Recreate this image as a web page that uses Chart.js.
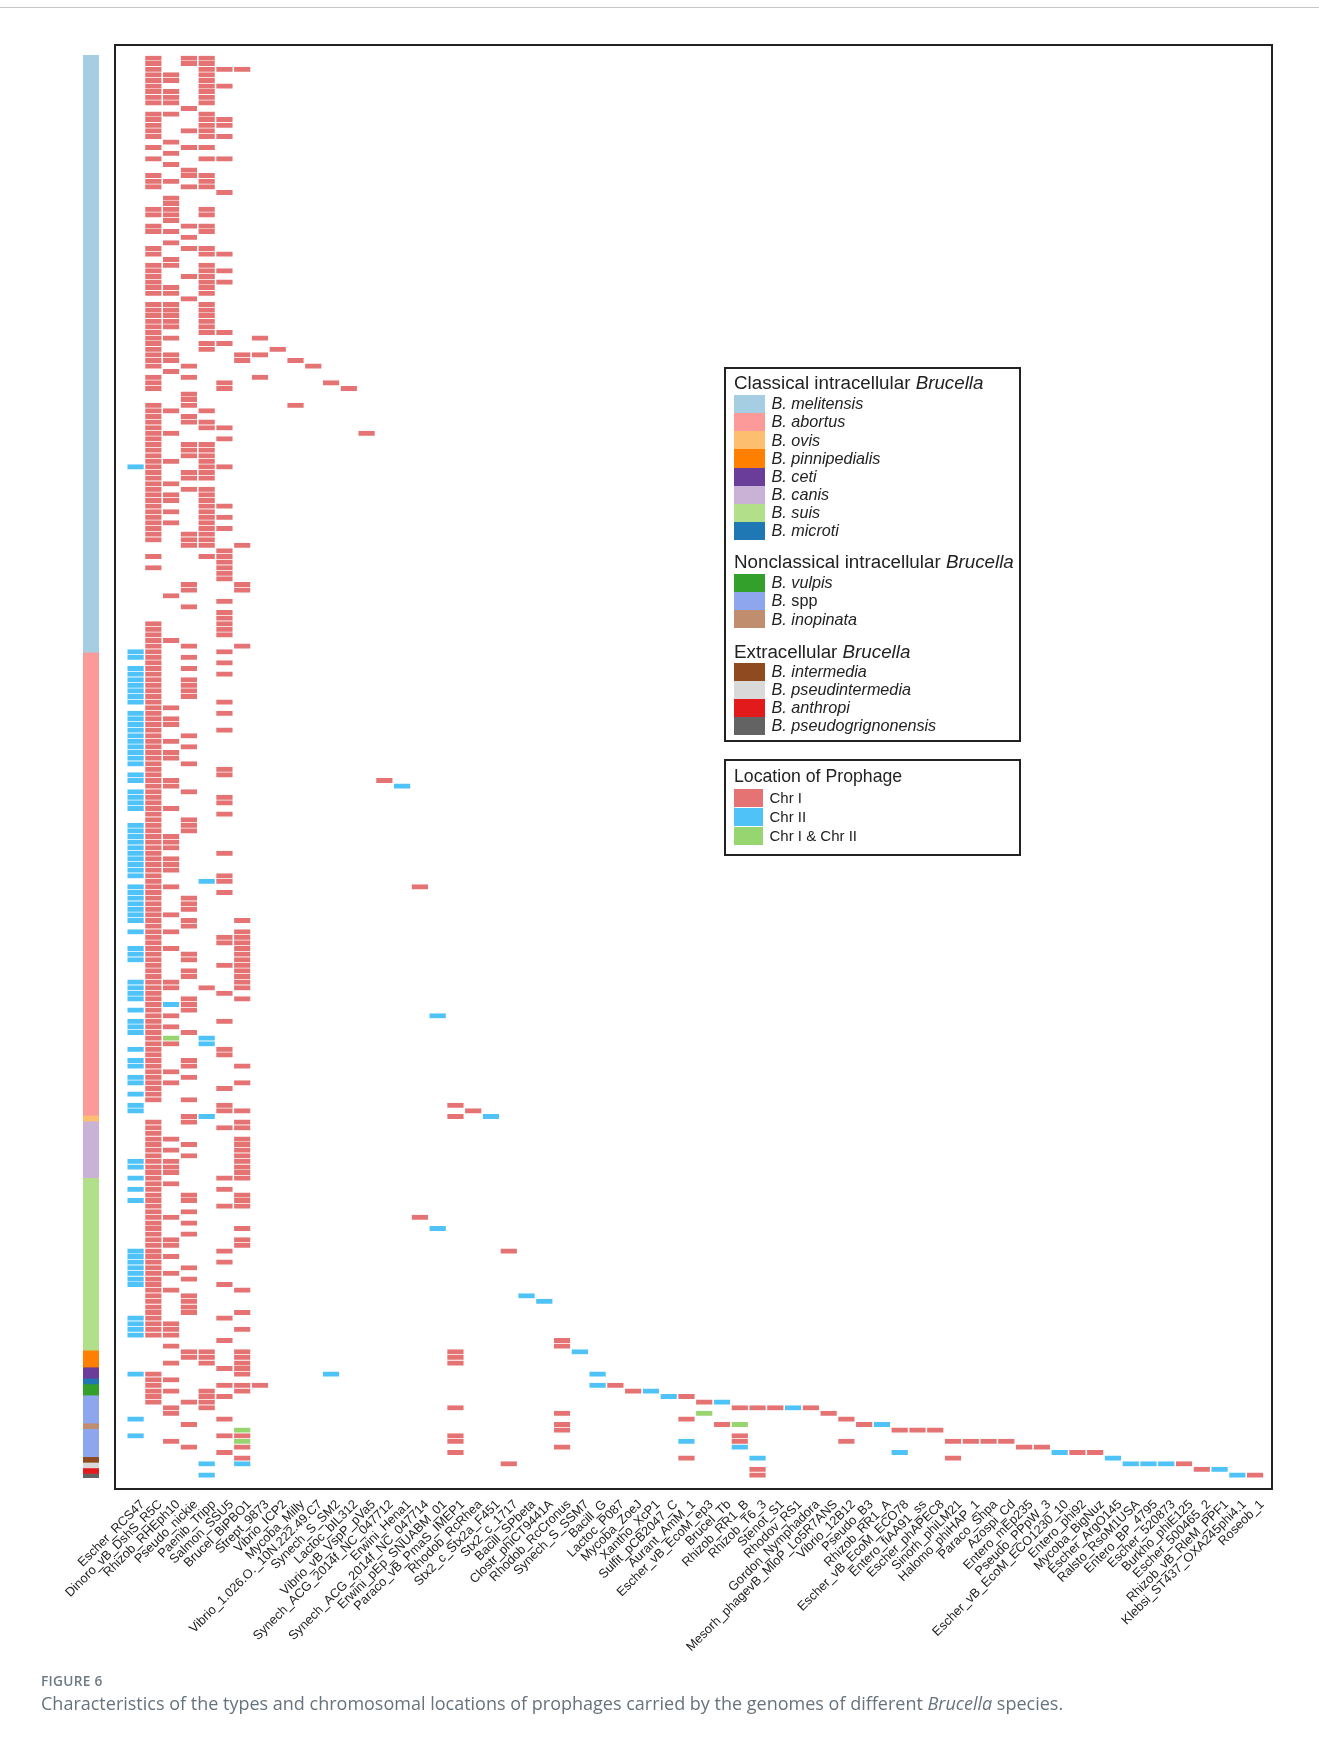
<!DOCTYPE html>
<html lang="en">
<head>
<meta charset="UTF-8">
<title>Figure 6</title>
<script src="https://cdn.jsdelivr.net/npm/chart.js"></script>
<style>
    body { margin: 0; background: #fff; font-family: "Liberation Sans", Arial, sans-serif; color: #222; }
    #page { position: relative; width: 1319px; height: 1738px; overflow: hidden; }
    #topRule { position: absolute; left: 0; top: 6.5px; width: 1319px; height: 1px; background: #c4c8cb; }
    #heat { position: absolute; left: 0; top: 0; }
    #side { position: absolute; left: 83px; top: 55px; }
    #frame { position: absolute; left: 114px; top: 43.5px; width: 1155px; height: 1442px; border: 2px solid #222; }
    .box { position: absolute; left: 724px; width: 297px; border: 2px solid #222; background: #fff; box-sizing: border-box; }
    .title { position: absolute; left: 734px; font-size: 18.8px; line-height: 22px; white-space: nowrap; color: #222; }
    .swatch { position: absolute; left: 734px; width: 31px; }
    .item { position: absolute; left: 771.5px; margin-top: -0.8px; font-size: 16.2px; line-height: 18px; white-space: nowrap; font-style: italic; color: #222; }
    .item span { font-style: normal; }
    .chr { left: 769.5px; margin-top: 0; font-size: 15px; font-style: normal; }
    #figLabel { position: absolute; left: 41px; top: 1671px; font: 600 13.7px "Open Sans", sans-serif; color: #6c7a86; letter-spacing: 0.3px; }
    #caption { position: absolute; left: 41px; top: 1691px; font: 18px "Open Sans", sans-serif; color: #66737e; white-space: nowrap; }
</style>
</head>
<body>
<div id="page">
    <div id="topRule"></div>
    <canvas id="heat" width="1319" height="1738"></canvas>
    <canvas id="side" width="16" height="1423"></canvas>
    <div id="frame"></div>
    <div class="box" style="top:366.5px;height:375.5px"></div>
    <div class="box" style="top:759px;height:96.5px"></div>
    <div id="legends"></div>
    <div id="figLabel">FIGURE 6</div>
    <div id="caption">Characteristics of the types and chromosomal locations of prophages carried by the genomes of different <i>Brucella</i> species.</div>
</div>

<script>
const phages = ['Escher_RCS47','Dinoro_vB_DshS_R5C','Rhizob_RHEph10','Pseudo_nickie','Paenib_Tripp','Salmon_SSU5','Brucel_BiPBO1','Strept_9873',
    'Vibrio_ICP2','Mycoba_Milly','Vibrio_1.026.O._10N.222.49.C7','Synech_S_SM2','Lactoc_bIL312','Vibrio_vB_VspP_pVa5','Synech_ACG_2014f_NC_047712','Erwini_Hena1',
    'Synech_ACG_2014f_NC_047714','Erwini_pEp_SNUABM_01','Paraco_vB_PmaS_IMEP1','Rhodob_RcRhea','Stx2_c_Stx2a_F451','Stx2_c_1717','Bacill_SPbeta','Clostr_phiCT9441A',
    'Rhodob_RcCronus','Synech_S_SSM7','Bacill_G','Lactoc_P087','Mycoba_ZoeJ','Xantho_XcP1','Sulfit_pCB2047_C','Aurant_AmM_1',
    'Escher_vB_EcoM_ep3','Brucel_Tb','Rhizob_RR1_B','Rhizob_T6_3','Stenot_S1','Rhodov_RS1','Gordon_Nymphadora','Mesorh_phagevB_MloP_Lo5R7ANS',
    'Vibrio_12B12','Pseudo_B3','Rhizob_RR1_A','Escher_vB_EcoM_ECO78','Entero_fiAA91_ss','Escher_phAPEC8','Sinorh_phiLM21','Halomo_phiHAP_1',
    'Paraco_Shpa','Azospi_Cd','Entero_mEp235','Pseudo_PPpW_3','Escher_vB_EcoM_ECO1230_10','Entero_phi92','Mycoba_BigNuz','Escher_ArgO145',
    'Ralsto_RsoM1USA','Entero_BP_4795','Escher_520873','Burkho_phiE125','Escher_500465_2','Rhizob_vB_RleM_PPF1','Klebsi_ST437_OXA245phi4.1','Roseob_1'];

// one entry per genome (row), listing the phage columns found on Chr I
const chrIByRow = [
    [1,3,4],[1,3,4],[1,4,5,6],[1,2,4],[1,2,4],[1,4,5],[1,2,4],[1,2,4],[1,2,4],[3],
    [1,2,4],[1,4,5],[1,4,5],[1,3,4],[1,4,5],[2],[1,3,4],[2],[1,4,5],[2],
    [3],[1,3,4],[1,2,4],[1,3,4],[5],[2],[2],[1,2,4],[1,2,4],[2],
    [1,3,4],[1,2,4],[3],[2],[1,3,4],[1,4,5],[2],[1,2,4],[1,4,5],[1,3,4],
    [1,4,5],[1,2,4],[1,2,4],[3],[1,2,4],[1,2,4],[1,2,4],[1,2,4],[1,2,4],[1,4,5],
    [1,2,7],[1,4,5],[1,4,8],[1,2,6,7],[1,2,6,9],[1,3,10],[2],[1,3,7],[1,5,11],[1,5,12],
    [3],[3],[1,3,9],[1,2,4],[1,3],[1,3,4],[1,4,5],[1,2,13],[1,5],[1,3,4],
    [1,3,4],[1,3,4],[1,2,4],[1,4,5],[1,3,4],[1,3,4],[1,2],[1,3,4],[1,2,4],[1,2,4],
    [1,4,5],[1,2,4],[1,4,5],[1,2,4],[1,4,5],[1,3,4],[1,3,4],[3,4,6],[5],[1,4,5],
    [5],[1,5],[5],[5],[3,6],[3,6],[2],[5],[3],[5],
    [5],[1,5],[1,5],[1,5],[1,2],[1,3,6],[1,5],[1,3],[1,5],[1,3],
    [1,5],[1,3],[1,3],[1,3],[1,3],[1,5],[1,2],[1,5],[1,2],[1,2],
    [1,5],[1,3],[1,2],[1,3],[1,2],[1,2],[1,3],[1,5],[1,5],[1,2,14],
    [1,2],[1,3],[1,5],[1,5],[1,2],[1,5],[1,3],[1,3],[1,3],[1,2],
    [1,2],[1,2],[1,5],[1,2],[1,2],[1,2],[1,5],[1,5],[1,2,16],[1,5],
    [1,3],[1,3],[1,3],[1,2],[1,3,6],[1,3],[1,2,6],[1,5,6],[1,5,6],[1,2,6],
    [1,3,6],[1,3,6],[1,5,6],[1,3,6],[1,3,6],[1,2,6],[1,2,4,6],[1,5],[1,3,6],[1,3],
    [1,3],[1,2],[1,5],[1,2],[1,3],[1],[1,2],[1,5],[1,5],[1,3],
    [1,3,6],[1,2],[1,3],[1,2,6],[1,5],[1],[1,3],[5,18],[5,6,19],[3,18],
    [1,3,6],[1,5,6],[1],[1,2,6],[1,3,6],[1,2,6],[1,3,6],[1,2,6],[1,2,6],[1,2,6],
    [1,5,6],[1,2],[1,5],[1,3,6],[1,3,6],[1,5,6],[1,3],[1,2,16],[1,3],[1,6],
    [1,3],[1,2,6],[1,2,6],[1,5,21],[1,2],[1,5],[1,3],[1,2],[1,3],[1,5],
    [1,2,6],[1,3],[1,3],[1,3],[1,3,6],[1,5],[1,2],[1,2,6],[1,2],[5,24],
    [2,24],[3,4,6,18],[3,4,6,18],[2,4,6,18],[5,6],[1,6],[1,2],[1,5,6,7,27],[1,2,4,6,28],[1,4,5,31],
    [1,3,4,32],[2,4,18,34,35,36,38],[2,24,39],[5,31,40],[3,24,33,41],[24,43,44,45],[5,6,18,34],[2,18,34,40,46,47,48,49],[3,6,24,50,51],[5,18,53,54],
    [6,31,46],[21,59],[35,60],[35,63]
];

// column, rows
const chrIIByCol = [
    [0,[73,106,107,109,110,111,112,113,114,115,117,118,119,120,121,122,123,124,125,126,128,129,131,132,133,134,137,138,139,140,141,142,143,144,145,146,148,149,150,151,152,153,154,156,159,160,161,165,166,167,168,170,172,173,174,177,179,180,182,183,185,187,188,197,198,200,202,204,213,214,215,216,217,218,219,225,226,227,228,235,243,246]],
    [2,[169]],[4,[147,175,176,189,251,253]],[6,[251]],[11,[235]],[15,[130]],[17,[171,209]],[20,[189]],[22,[221]],[23,[222]],[25,[231]],[26,[235,237]],
    [29,[238]],[30,[239]],[31,[247]],[33,[240]],[34,[248]],[35,[250]],[37,[241]],[42,[244]],[43,[249]],[52,[249]],[55,[250]],[56,[251]],[57,[251]],[58,[251]],[61,[252]],[62,[253]]
];
const bothByCol = [[2,[175]],[6,[245,247]],[32,[242]],[34,[244]]];

const stripNames = ['B. melitensis','B. abortus','B. ovis','B. canis','B. suis','B. pinnipedialis','B. ceti','B. microti','B. vulpis','B. spp','B. inopinata','B. spp','B. intermedia','B. pseudintermedia','B. anthropi','B. pseudogrignonensis'];
const stripCounts = [106.6,82.7,1,10.1,30.8,3,2,1,2,5,1,5,1,1,1,0.8];

const speciesColors = {
    'B. melitensis':'#a6cee3','B. abortus':'#fb9a99','B. ovis':'#fdbf6f','B. pinnipedialis':'#ff7f00','B. ceti':'#6a3d9a','B. canis':'#cab2d6','B. suis':'#b2df8a','B. microti':'#1f78b4',
    'B. vulpis':'#33a02c','B. spp':'#8da6ee','B. inopinata':'#c08e6e','B. intermedia':'#8f4a20','B. pseudintermedia':'#d9d9d9','B. anthropi':'#e31a1c','B. pseudogrignonensis':'#636363'
};
const chrColors = { 'Chr I':'#e57373', 'Chr II':'#4fc3f7', 'Chr I & Chr II':'#96d56f' };

function cell(col, row) {
    return { x: phages[col], y: [row, row + 1] };
}
const chrICells = [];
chrIByRow.forEach((cols, row) => cols.forEach(col => chrICells.push(cell(col, row))));
function fromCols(list) {
    const out = [];
    list.forEach(([col, rows]) => rows.forEach(row => out.push(cell(col, row))));
    return out;
}

function cellDataset(label, data) {
    return { label: label, data: data, backgroundColor: chrColors[label], borderColor: 'rgba(255,255,255,0.55)', borderWidth: 0.6 };
}

new Chart(document.getElementById('heat'), {
    type: 'bar',
    data: {
        labels: phages,
        datasets: [
            cellDataset('Chr I', chrICells),
            cellDataset('Chr II', fromCols(chrIIByCol)),
            cellDataset('Chr I & Chr II', fromCols(bothByCol))
        ]
    },
    options: {
        responsive: false,
        animation: false,
        grouped: false,
        categoryPercentage: 1,
        barPercentage: 0.98,
        layout: { padding: { left: 126.7, right: 55, top: 55.5, bottom: 0 } },
        plugins: { legend: { display: false }, tooltip: { enabled: false } },
        scales: {
            x: {
                grid: { display: false, drawTicks: false },
                border: { display: false },
                afterFit: scale => { scale.height = 260; },
                ticks: {
                    autoSkip: false, minRotation: 45, maxRotation: 45, padding: 19, labelOffset: 7,
                    color: '#222', font: { family: '"Liberation Sans", Arial, sans-serif', size: 12.8 }
                }
            },
            y: { display: false, reverse: true, min: 0, max: 254 }
        }
    }
});

new Chart(document.getElementById('side'), {
    type: 'bar',
    data: {
        labels: ['species'],
        datasets: stripNames.map((name, i) => ({ label: name, data: [stripCounts[i]], backgroundColor: speciesColors[name] }))
    },
    options: {
        responsive: false,
        animation: false,
        categoryPercentage: 1,
        barPercentage: 1,
        plugins: { legend: { display: false }, tooltip: { enabled: false } },
        scales: {
            x: { display: false, stacked: true },
            y: { display: false, stacked: true, reverse: true, min: 0, max: 254 }
        }
    }
});

// html legends: plain text so the genus can stay italic
const legendGroups = [
    { title: 'Classical intracellular <i>Brucella</i>', titleY: 372, top: 395, names: ['B. melitensis','B. abortus','B. ovis','B. pinnipedialis','B. ceti','B. canis','B. suis','B. microti'] },
    { title: 'Nonclassical intracellular <i>Brucella</i>', titleY: 551, top: 574, names: ['B. vulpis','B. spp','B. inopinata'] },
    { title: 'Extracellular <i>Brucella</i>', titleY: 640.5, top: 662.7, names: ['B. intermedia','B. pseudintermedia','B. anthropi','B. pseudogrignonensis'] }
];
let html = '';
legendGroups.forEach(g => {
    html += `<div class="title" style="top:${g.titleY}px">${g.title}</div>`;
    g.names.forEach((name, i) => {
        const y = g.top + i * 18.15;
        const text = name === 'B. spp' ? 'B. <span>spp</span>' : name;
        html += `<div class="swatch" style="top:${y}px;height:18.2px;background:${speciesColors[name]}"></div>`;
        html += `<div class="item" style="top:${y}px">${text}</div>`;
    });
});
html += '<div class="title" style="top:765px;font-size:17.7px">Location of Prophage</div>';
Object.keys(chrColors).forEach((name, i) => {
    const y = 789 + i * 18.9;
    html += `<div class="swatch" style="width:29px;top:${y}px;height:18px;background:${chrColors[name]}"></div>`;
    html += `<div class="item chr" style="top:${y}px">${name.replace('&', '&amp;')}</div>`;
});
document.getElementById('legends').innerHTML = html;
</script>
</body>
</html>
